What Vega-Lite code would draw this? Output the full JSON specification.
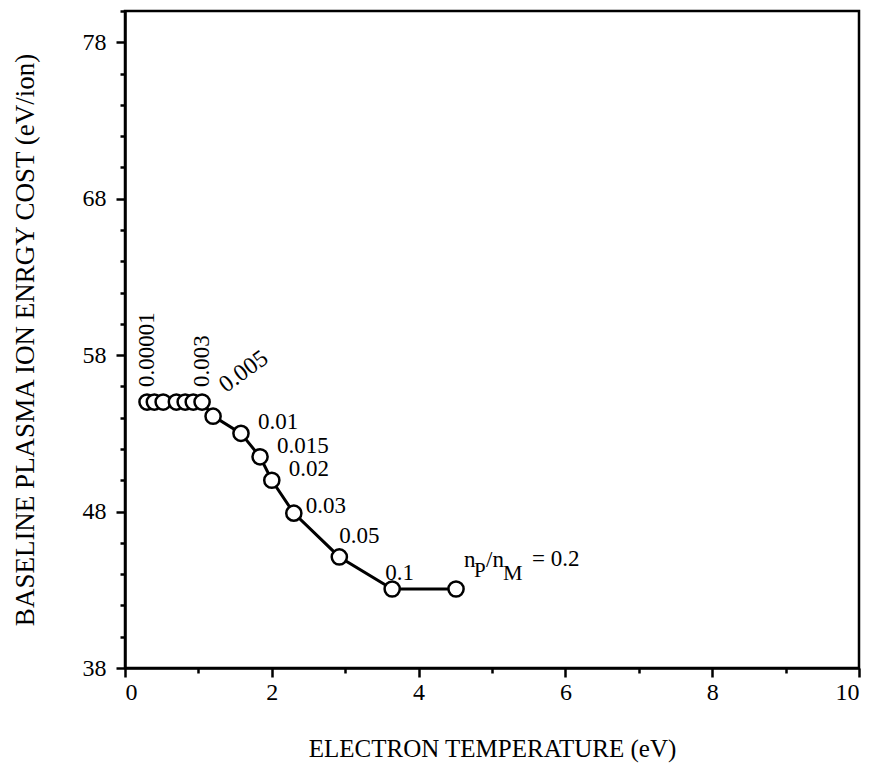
{
  "$schema": "https://vega.github.io/schema/vega-lite/v6.json",
  "width": 734,
  "height": 657,
  "autosize": {"type": "none"},
  "padding": {"left": 125, "top": 11, "right": 16, "bottom": 108},
  "background": "white",
  "config": {
    "view": {"stroke": "black", "strokeWidth": 2.5},
    "font": "Liberation Serif",
    "axis": {
      "grid": false,
      "domainColor": "black",
      "domainWidth": 2.5,
      "tickColor": "black",
      "tickWidth": 2.5,
      "labelFont": "Liberation Serif",
      "labelFontSize": 24,
      "labelColor": "black",
      "titleFont": "Liberation Serif",
      "titleFontSize": 25,
      "titleFontWeight": "normal",
      "titleColor": "black"
    }
  },
  "data": {
    "values": [
      {"T": 0.3, "E": 55.0, "label": "0.00001"},
      {"T": 0.4, "E": 55.0, "label": ""},
      {"T": 0.52, "E": 55.0, "label": ""},
      {"T": 0.7, "E": 55.0, "label": ""},
      {"T": 0.82, "E": 55.0, "label": ""},
      {"T": 0.93, "E": 55.0, "label": ""},
      {"T": 1.05, "E": 55.0, "label": "0.003"},
      {"T": 1.2, "E": 54.1, "label": "0.005"},
      {"T": 1.58, "E": 53.0, "label": "0.01"},
      {"T": 1.84, "E": 51.5, "label": "0.015"},
      {"T": 2.0, "E": 50.0, "label": "0.02"},
      {"T": 2.3, "E": 47.9, "label": "0.03"},
      {"T": 2.92, "E": 45.1, "label": "0.05"},
      {"T": 3.64, "E": 43.05, "label": "0.1"},
      {"T": 4.51, "E": 43.05, "label": "0.2"}
    ]
  },
  "resolve": {"axis": {"x": "independent", "y": "independent"}},
  "layer": [
    {
      "mark": {"type": "line", "color": "black", "strokeWidth": 3},
      "encoding": {
        "x": {"field": "T", "type": "quantitative", "scale": {"domain": [0, 10], "nice": false},
          "axis": {"orient": "bottom", "values": [0, 2, 4, 6, 8, 10], "tickSize": 9, "labelPadding": 3, "title": "ELECTRON TEMPERATURE (eV)", "titlePadding": 32}},
        "y": {"field": "E", "type": "quantitative", "scale": {"domain": [38, 80], "nice": false, "zero": false},
          "axis": {"orient": "left", "values": [38, 48, 58, 68, 78], "tickSize": 9, "labelPadding": 10, "title": "BASELINE PLASMA ION ENRGY COST (eV/ion)", "titleFontSize": 27, "titlePadding": 43}}
      }
    },
    {
      "mark": {"type": "point", "shape": "circle", "filled": true, "fill": "white", "stroke": "black", "strokeWidth": 2.5, "size": 230, "opacity": 1},
      "encoding": {
        "x": {"field": "T", "type": "quantitative",
          "axis": {"orient": "bottom", "values": [1, 3, 5, 7, 9], "tickSize": 5, "labels": false, "domain": false, "title": null}},
        "y": {"field": "E", "type": "quantitative",
          "axis": {"orient": "left", "values": [40, 42, 44, 46, 50, 52, 54, 56, 60, 62, 64, 66, 70, 72, 74, 76, 80], "tickSize": 5, "labels": false, "domain": false, "title": null}}
      }
    },
    {
      "transform": [{"filter": "datum.label == '0.00001' || datum.label == '0.003'"}],
      "mark": {"type": "text", "angle": 270, "align": "left", "baseline": "middle", "dx": 15, "fontSize": 23, "color": "black", "font": "Liberation Serif"},
      "encoding": {"x": {"field": "T", "type": "quantitative", "axis": null}, "y": {"field": "E", "type": "quantitative", "axis": null}, "text": {"field": "label"}}
    },
    {
      "transform": [{"filter": "datum.label == '0.005'"}],
      "mark": {"type": "text", "angle": 324, "align": "left", "baseline": "bottom", "dx": 24, "dy": -6, "fontSize": 24, "color": "black", "font": "Liberation Serif"},
      "encoding": {"x": {"field": "T", "type": "quantitative", "axis": null}, "y": {"field": "E", "type": "quantitative", "axis": null}, "text": {"field": "label"}}
    },
    {
      "transform": [{"filter": "datum.label == '0.01' || datum.label == '0.015' || datum.label == '0.02'"}],
      "mark": {"type": "text", "align": "left", "baseline": "middle", "dx": 17, "dy": -11, "fontSize": 23, "color": "black", "font": "Liberation Serif"},
      "encoding": {"x": {"field": "T", "type": "quantitative", "axis": null}, "y": {"field": "E", "type": "quantitative", "axis": null}, "text": {"field": "label"}}
    },
    {
      "transform": [{"filter": "datum.label == '0.03'"}],
      "mark": {"type": "text", "align": "left", "baseline": "middle", "dx": 12, "dy": -7, "fontSize": 23, "color": "black", "font": "Liberation Serif"},
      "encoding": {"x": {"field": "T", "type": "quantitative", "axis": null}, "y": {"field": "E", "type": "quantitative", "axis": null}, "text": {"field": "label"}}
    },
    {
      "transform": [{"filter": "datum.label == '0.05'"}],
      "mark": {"type": "text", "align": "left", "baseline": "middle", "dx": 0, "dy": -21, "fontSize": 23, "color": "black", "font": "Liberation Serif"},
      "encoding": {"x": {"field": "T", "type": "quantitative", "axis": null}, "y": {"field": "E", "type": "quantitative", "axis": null}, "text": {"field": "label"}}
    },
    {
      "transform": [{"filter": "datum.label == '0.1'"}],
      "mark": {"type": "text", "align": "left", "baseline": "middle", "dx": -7, "dy": -16, "fontSize": 23, "color": "black", "font": "Liberation Serif"},
      "encoding": {"x": {"field": "T", "type": "quantitative", "axis": null}, "y": {"field": "E", "type": "quantitative", "axis": null}, "text": {"field": "label"}}
    },
    {
      "transform": [{"filter": "datum.label == '0.2'"}],
      "mark": {"type": "text", "text": "n", "align": "left", "baseline": "alphabetic", "dx": 8, "dy": -22, "fontSize": 23, "color": "black", "font": "Liberation Serif"},
      "encoding": {"x": {"field": "T", "type": "quantitative", "axis": null}, "y": {"field": "E", "type": "quantitative", "axis": null}}
    },
    {
      "transform": [{"filter": "datum.label == '0.2'"}],
      "mark": {"type": "text", "text": "P", "align": "left", "baseline": "alphabetic", "dx": 18, "dy": -12, "fontSize": 21, "color": "black", "font": "Liberation Serif"},
      "encoding": {"x": {"field": "T", "type": "quantitative", "axis": null}, "y": {"field": "E", "type": "quantitative", "axis": null}}
    },
    {
      "transform": [{"filter": "datum.label == '0.2'"}],
      "mark": {"type": "text", "text": "/n", "align": "left", "baseline": "alphabetic", "dx": 30, "dy": -22, "fontSize": 23, "color": "black", "font": "Liberation Serif"},
      "encoding": {"x": {"field": "T", "type": "quantitative", "axis": null}, "y": {"field": "E", "type": "quantitative", "axis": null}}
    },
    {
      "transform": [{"filter": "datum.label == '0.2'"}],
      "mark": {"type": "text", "text": "M", "align": "left", "baseline": "alphabetic", "dx": 47, "dy": -9, "fontSize": 22, "color": "black", "font": "Liberation Serif"},
      "encoding": {"x": {"field": "T", "type": "quantitative", "axis": null}, "y": {"field": "E", "type": "quantitative", "axis": null}}
    },
    {
      "transform": [{"filter": "datum.label == '0.2'"}],
      "mark": {"type": "text", "text": "= 0.2", "align": "left", "baseline": "alphabetic", "dx": 76, "dy": -23, "fontSize": 23, "color": "black", "font": "Liberation Serif"},
      "encoding": {"x": {"field": "T", "type": "quantitative", "axis": null}, "y": {"field": "E", "type": "quantitative", "axis": null}}
    }
  ]
}
